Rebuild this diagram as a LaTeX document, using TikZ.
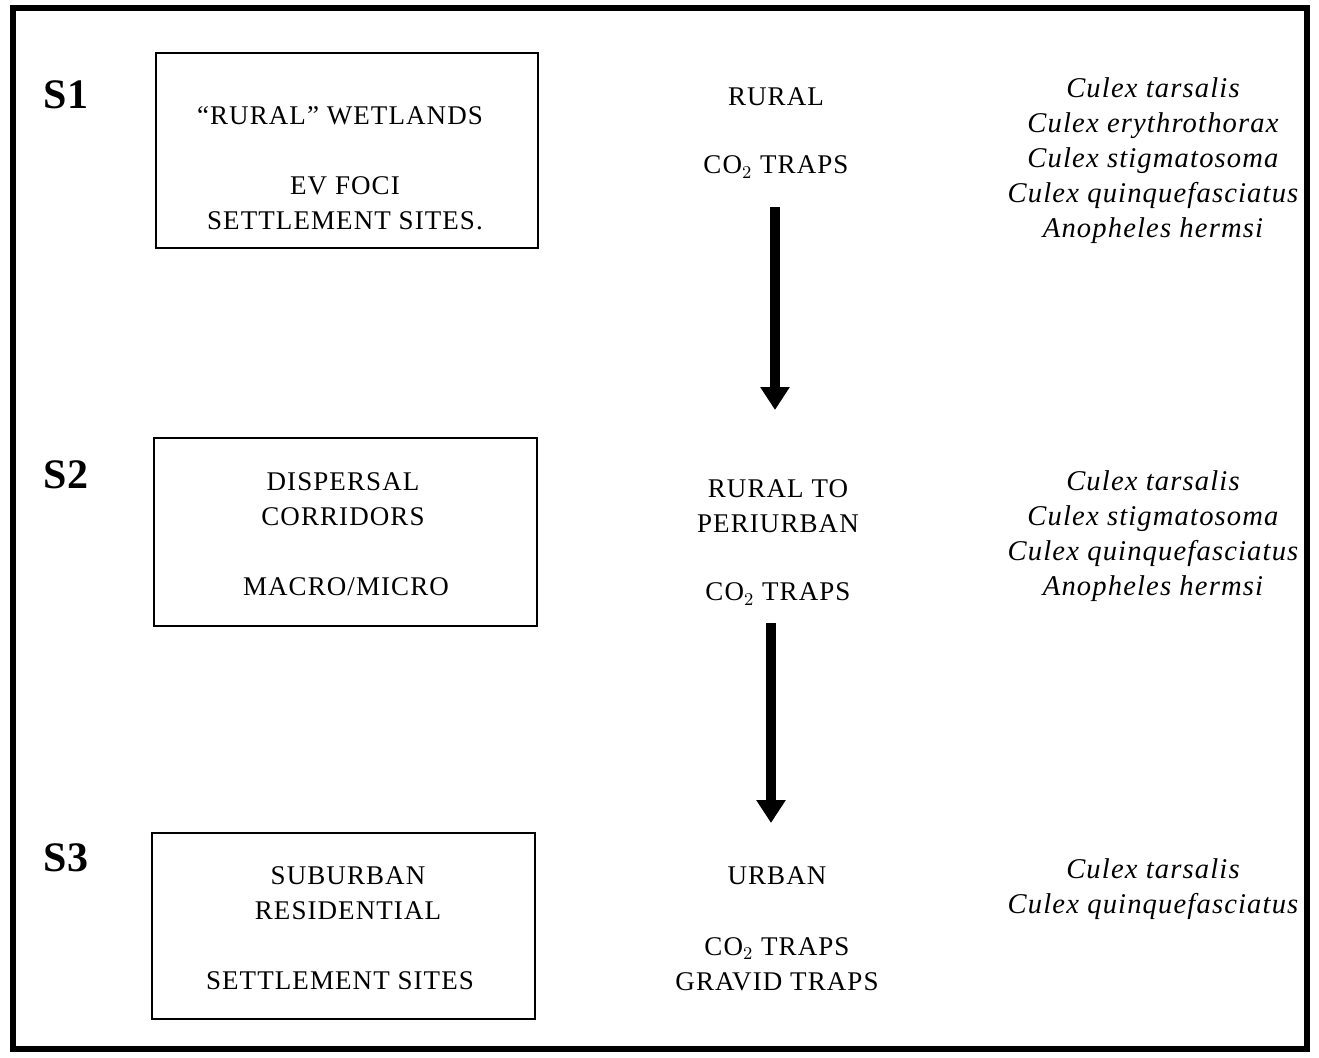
\documentclass[tikz,border=0pt]{standalone}
\usepackage{fontspec}
\setmainfont{Liberation Serif}
\usetikzlibrary{arrows.meta}
\begin{document}
\begin{tikzpicture}[x=0.5pt,y=-0.5pt,
  frame/.style={draw,line width=2.6pt},
  sitebox/.style={draw,line width=1pt},
  stagelbl/.style={font=\fontsize{21}{23}\selectfont\bfseries,anchor=center},
  txt/.style={font=\fontsize{13.5}{17.5}\selectfont\addfontfeature{LetterSpace=4},align=center,anchor=center,inner sep=0pt},
  species/.style={font=\fontsize{14.3}{17.5}\selectfont\itshape\addfontfeature{LetterSpace=4},align=center,anchor=center,inner sep=0pt},
  flow/.style={line width=5pt,-{Triangle[width=14pt,length=11.5pt]}}]
\useasboundingbox (0,0) rectangle (1319,1057);
% outer frame
\draw[frame] (13,8) rectangle (1307,1049);

% stage labels
\node[stagelbl] (s1) at (66,95) {S1};
\node[stagelbl] (s2) at (66,475) {S2};
\node[stagelbl] (s3) at (66,858) {S3};

% habitat boxes
\draw[sitebox] (156,53) rectangle (538,248);
\draw[sitebox] (154,438) rectangle (537,626);
\draw[sitebox] (152,833) rectangle (535,1019);

\node[txt] (b1a) at (340,116) {``RURAL'' WETLANDS};
\node[txt] (b1b) at (345,203) {EV FOCI\\SETTLEMENT SITES.};
\node[txt] (b2a) at (343,499) {DISPERSAL\\CORRIDORS};
\node[txt] (b2b) at (346,587) {MACRO/MICRO};
\node[txt] (b3a) at (348,893) {SUBURBAN\\RESIDENTIAL};
\node[txt] (b3b) at (340,981) {SETTLEMENT SITES};

% trap columns
\node[txt] (r1) at (776,97) {RURAL};
\node[txt] (c1) at (776,167) {CO$_2$ TRAPS};
\node[txt] (r2) at (778,506) {RURAL TO\\PERIURBAN};
\node[txt] (c2) at (778,594) {CO$_2$ TRAPS};
\node[txt] (r3) at (777,876) {URBAN};
\node[txt] (c3) at (777,964) {CO$_2$ TRAPS\\GRAVID TRAPS};

% flow arrows
\coordinate (a1s) at (775,207);
\coordinate (a1e) at (775,410);
\coordinate (a2s) at (771,623);
\coordinate (a2e) at (771,823);
\draw[flow] (a1s) -- (a1e);
\draw[flow] (a2s) -- (a2e);

% species lists
\node[species] (sp1) at (1153,161) {Culex tarsalis\\Culex erythrothorax\\Culex stigmatosoma\\Culex quinquefasciatus\\Anopheles hermsi};
\node[species] (sp2) at (1153,536) {Culex tarsalis\\Culex stigmatosoma\\Culex quinquefasciatus\\Anopheles hermsi};
\node[species] (sp3) at (1153,889) {Culex tarsalis\\Culex quinquefasciatus};
\end{tikzpicture}
\end{document}
